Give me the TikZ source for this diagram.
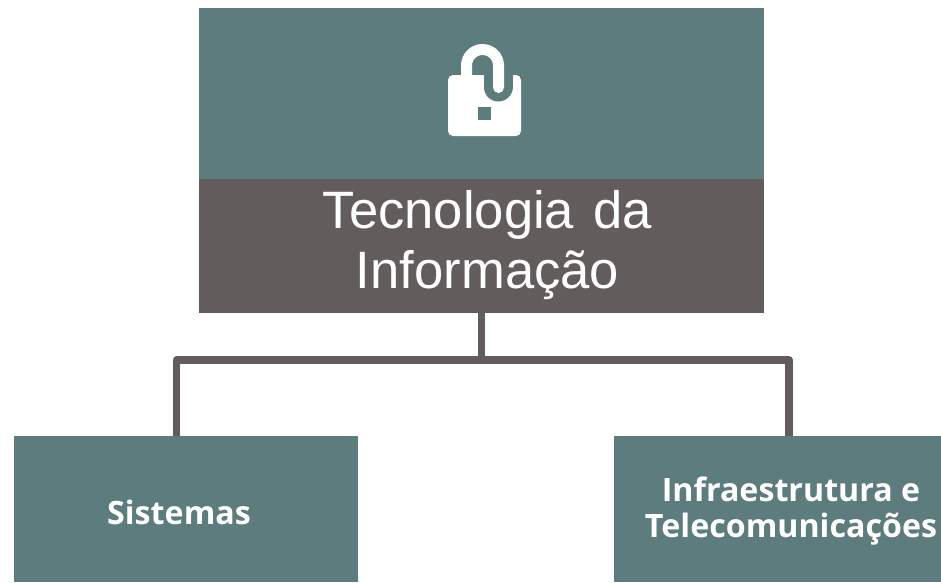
\documentclass[tikz,border=0pt]{standalone}
\usepackage{fontspec}
\setmainfont{Liberation Sans}
\newfontfamily\boldlabel{Open Sans}[BoldFont={Open Sans Bold}]
\definecolor{tealbox}{HTML}{5C7C7D}
\definecolor{darkbox}{HTML}{625D5C}
\tikzset{
  box/.style={draw=none,inner sep=0pt,anchor=north west},
  tealrect/.style={box,fill=tealbox},
  darkrect/.style={box,fill=darkbox},
  txt/.style={inner sep=0pt,align=center,text=white},
  leaftext/.style={txt,font=\boldlabel\bfseries\fontsize{32.2}{36}\selectfont},
  titletext/.style={txt,font=\fontsize{52.6}{60}\selectfont},
  conn/.style={draw=darkbox,line width=7.3pt,line join=round}
}
\begin{document}
\begin{tikzpicture}[x=1pt,y=-1pt]
\useasboundingbox (0,0) rectangle (941,582);
\node[tealrect,minimum width=565pt,minimum height=171pt] (head) at (199,8) {};
\node[darkrect,minimum width=565pt,minimum height=134pt] (title) at (199,179) {};
\node[tealrect,minimum width=344pt,minimum height=146pt] (sis) at (14,436) {};
\node[tealrect,minimum width=327pt,minimum height=146pt] (inf) at (614,436) {};
\node[titletext] (titletxt) at (487.5,245) {Tecnologia\kern5pt\ da\\Informação};
\node[leaftext] (sistxt) at (179,512) {Sistemas};
\node[leaftext] (inftxt) at (791,511) {Infraestrutura e\\Telecomunicações};
\coordinate (trunk) at (481.5,360);
\coordinate (busL) at (176.5,360);
\coordinate (busR) at (789,360);
\draw[conn] (sis.north -| busL) -- (busL) -- (busR) -- (inf.north -| busR);
\draw[conn] (title.south -| trunk) -- (trunk);
% padlock icon
\fill[white,rounded corners=5pt] (448,75) rectangle (521,136);
\draw[tealbox,line width=29pt,line cap=round] (498,70) -- (498,87);
\draw[white,line width=11pt,line cap=round] (466.5,76) -- (466.5,65.5) arc[start angle=180,end angle=360,radius=16] -- (498.5,87.5);
\fill[tealbox] (478,107) rectangle (491,119.5);
\end{tikzpicture}
\end{document}
